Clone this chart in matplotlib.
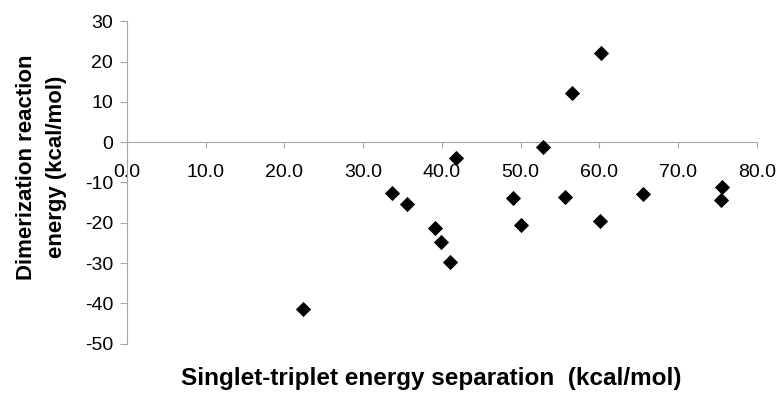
import matplotlib
matplotlib.use("Agg")
import matplotlib.pyplot as plt

plt.rcParams['font.family'] = ['Liberation Sans', 'DejaVu Sans']
plt.rcParams['axes.unicode_minus'] = False

# Singlet-triplet energy separation (kcal/mol)
st_gap = [60.2, 56.6, 52.9, 41.8, 33.7, 35.6, 39.1, 39.9, 41.0, 49.0,
          50.1, 55.6, 60.1, 65.5, 75.6, 75.5, 22.4]
# Dimerization reaction energy (kcal/mol)
dimer_e = [22.2, 12.2, -1.1, -4.0, -12.7, -15.3, -21.2, -24.7, -29.7, -13.9,
           -20.5, -13.7, -19.5, -12.8, -11.0, -14.4, -41.4]

x_ticks = [0, 10, 20, 30, 40, 50, 60, 70, 80]
x_ticklabels = ["0.0", "10.0", "20.0", "30.0", "40.0", "50.0", "60.0", "70.0", "80.0"]
y_ticks = [-50, -40, -30, -20, -10, 0, 10, 20, 30]

fig = plt.figure(figsize=(7.78, 3.94), dpi=100)
ax = fig.add_axes([0.1632, 0.1277, 0.9726 - 0.1632, 0.946 - 0.1277])

ax.scatter(st_gap, dimer_e, marker='D', s=60, color='black', zorder=3, linewidths=0)

ax.set_xlim(0, 80)
ax.set_ylim(-50, 30)
ax.set_xticks(x_ticks)
ax.set_xticklabels(x_ticklabels)
ax.set_yticks(y_ticks)

grey = '#a6a6a6'
ax.spines['top'].set_visible(False)
ax.spines['right'].set_visible(False)
ax.spines['bottom'].set_position(('data', 0))
ax.spines['bottom'].set_color(grey)
ax.spines['left'].set_color(grey)
ax.tick_params(axis='x', direction='out', length=4, color=grey, labelsize=14, pad=12)
ax.tick_params(axis='y', direction='out', length=5, color=grey, labelsize=14, pad=5)

ax.set_ylabel("Dimerization reaction\nenergy (kcal/mol)", fontsize=16, fontweight='bold',
              linespacing=1.55)
ax.yaxis.set_label_coords(-0.096, 0.548)
fig.text(0.5544, 0.04, "Singlet-triplet energy separation  (kcal/mol)", fontsize=17.5,
         fontweight='bold', ha='center', va='center')

fig.savefig("out.png", dpi=100)
